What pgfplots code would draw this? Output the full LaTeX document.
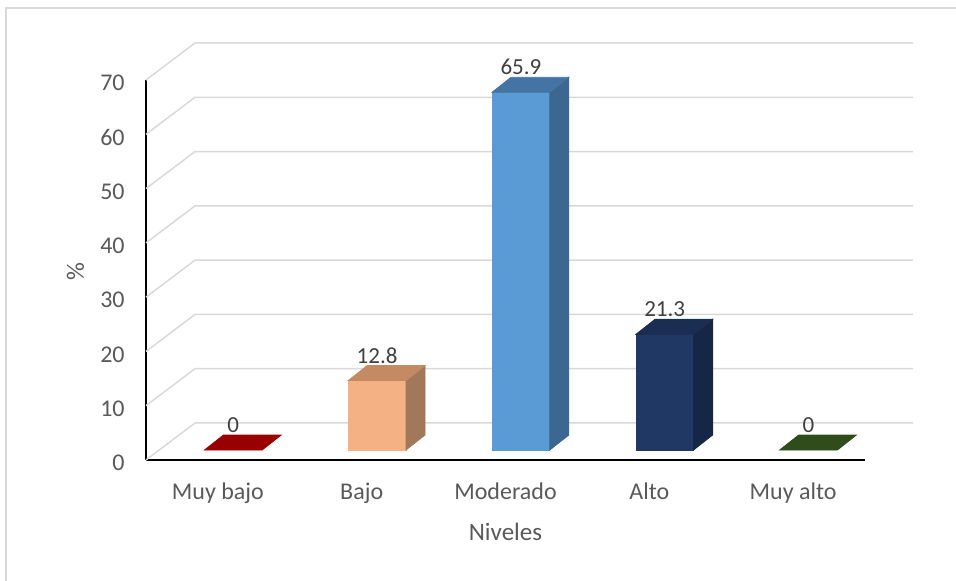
\documentclass[border=0pt]{standalone}
\usepackage{pgfplots}
\pgfplotsset{compat=1.18}
\usepackage{pgfplotstable}
\usepackage{fontspec}
\setmainfont{Carlito}
\definecolor{txt}{HTML}{595959}
\definecolor{lbl}{HTML}{404040}
\definecolor{gridc}{HTML}{D9D9D9}
\definecolor{framec}{HTML}{D9D9D9}
\definecolor{f0}{HTML}{990000}\definecolor{s0}{HTML}{7A0000}\definecolor{t0}{HTML}{990000}
\definecolor{f1}{HTML}{F4B183}\definecolor{s1}{HTML}{A2785A}\definecolor{t1}{HTML}{C38A63}
\definecolor{f2}{HTML}{5B9BD5}\definecolor{s2}{HTML}{3B6790}\definecolor{t2}{HTML}{4374A4}
\definecolor{f3}{HTML}{203864}\definecolor{s3}{HTML}{162646}\definecolor{t3}{HTML}{1A2D52}
\definecolor{f4}{HTML}{2E4D1B}\definecolor{s4}{HTML}{223A14}\definecolor{t4}{HTML}{2E4D1B}

\pgfplotstableread{
x y
0 0
1 12.8
2 65.9
3 21.3
4 0
}\datatable

\pgfdeclareplotmark{nothing}{}
\pgfplotsset{
  box3d/.style n args={3}{scatter, only marks, mark=nothing,
    point meta=explicit symbolic,
    restrict x to domain=#2:#3,
    scatter/@pre marker code/.code={%
      \pgfmathsetlengthmacro\hh{\pgfplotspointmeta*2.7143pt}%
      \ifdim\hh>0pt
        \fill[f#1] (-6.7pt,5pt) rectangle (22.15pt,5pt-\hh);
        \fill[s#1] (22.15pt,5pt-\hh) -- (31.65pt,12.5pt-\hh) -- (31.65pt,12.5pt) -- (22.15pt,5pt) -- cycle;
      \fi
      \fill[t#1] (-6.7pt,5pt) -- (2.8pt,12.5pt) -- (31.65pt,12.5pt) -- (22.15pt,5pt) -- cycle;
    },
    scatter/@post marker code/.code={},
  },
}
\begin{document}
\begin{tikzpicture}
\begin{axis}[
  x=71.9pt, y=2.7143pt,
  xmin=-0.5, xmax=4.5, ymin=0, ymax=70,
  axis lines=left, axis line style={-, black, line width=1pt},
  clip=false,
  xtick={0,...,4}, xticklabels={Muy bajo,Bajo,Moderado,Alto,Muy alto},
  ytick={0,10,...,70},
  major tick length=0pt,
  tick label style={font=\fontsize{12}{14}\selectfont, text=txt},
  /pgf/number format/assume math mode=true,
  xticklabel style={anchor=base, yshift=-19.5pt},
  yticklabel style={anchor=east, inner sep=0pt, xshift=-10.5pt, yshift=-1.5pt},
  xlabel={Niveles}, ylabel={\%},
  label style={font=\fontsize{12.5}{14}\selectfont, text=txt},
  xlabel style={at={(axis description cs:0.5,-0.2124)}, anchor=base},
  ylabel style={at={(axis description cs:-0.098,0.497)}, anchor=center},
]
% back wall / gridlines
\addplot[gridc, line width=0.75pt] coordinates {(-0.5,0) (-0.1592,6.816) (4.834,6.816)};
\addplot[gridc, line width=0.75pt] coordinates {(-0.5,10) (-0.1592,16.816) (4.834,16.816)};
\addplot[gridc, line width=0.75pt] coordinates {(-0.5,20) (-0.1592,26.816) (4.834,26.816)};
\addplot[gridc, line width=0.75pt] coordinates {(-0.5,30) (-0.1592,36.816) (4.834,36.816)};
\addplot[gridc, line width=0.75pt] coordinates {(-0.5,40) (-0.1592,46.816) (4.834,46.816)};
\addplot[gridc, line width=0.75pt] coordinates {(-0.5,50) (-0.1592,56.816) (4.834,56.816)};
\addplot[gridc, line width=0.75pt] coordinates {(-0.5,60) (-0.1592,66.816) (4.834,66.816)};
\addplot[gridc, line width=0.75pt] coordinates {(-0.5,70) (-0.1592,76.816) (4.834,76.816)};
% 3D bars, one per category
\addplot[box3d={0}{-0.5}{0.5}] table[x=x, y=y, meta=y] {\datatable};
\addplot[box3d={1}{0.5}{1.5}] table[x=x, y=y, meta=y] {\datatable};
\addplot[box3d={2}{1.5}{2.5}] table[x=x, y=y, meta=y] {\datatable};
\addplot[box3d={3}{2.5}{3.5}] table[x=x, y=y, meta=y] {\datatable};
\addplot[box3d={4}{3.5}{4.5}] table[x=x, y=y, meta=y] {\datatable};
% data labels
\addplot[draw=none, mark=none,
  nodes near coords,
  every node near coord/.append style={font=\fontsize{11.5}{13}\selectfont, text=lbl, anchor=center, xshift=7.7pt, yshift=17.5pt},
] table[x=x, y=y] {\datatable};
% chart frame
\draw[framec, line width=0.75pt] (axis cs:-1.4736,-30) -- (axis cs:-1.4736,83.26) -- (axis cs:6,83.26);
\coordinate (BL) at (axis cs:-1.5153,-22.289);
\coordinate (TR) at (axis cs:5.1328,84.737);
\end{axis}
\pgfresetboundingbox
\useasboundingbox (BL) rectangle (TR);
\end{tikzpicture}
\end{document}
